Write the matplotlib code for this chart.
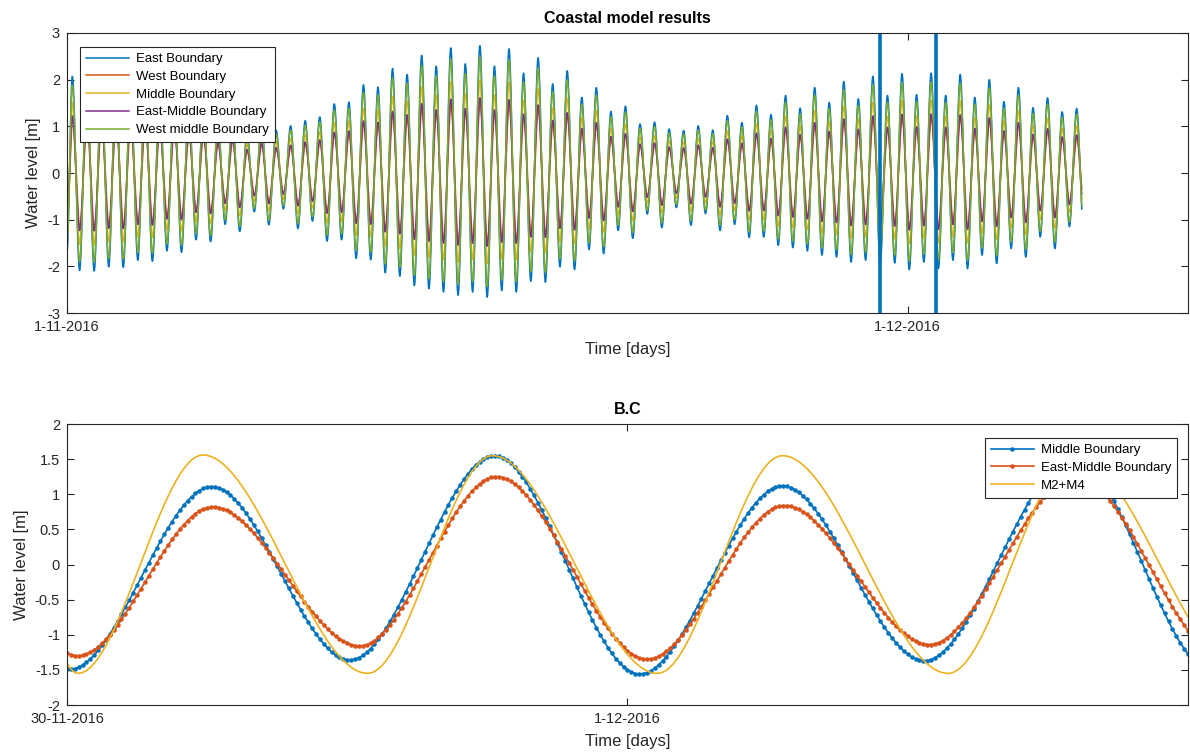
import numpy as np
import matplotlib
matplotlib.use("Agg")
import matplotlib.pyplot as plt

plt.rcParams['font.family'] = ['Liberation Sans', 'DejaVu Sans']
plt.rcParams['axes.unicode_minus'] = False

# ---------------- data: top panel (days since 1-11-2016) ----------------
top_xticks = [0, 30]
top_xtick_labels = ['1-11-2016', '1-12-2016']
top_yticks = [-3, -2, -1, 0, 1, 2, 3]
top_xlim = [0, 40]
window_lines = [29, 31]          # 30-11-2016 and 2-12-2016

east_start_value = -1.7
east_first_high_day = 0.19
east_half_period_day = 0.2597
east_end_day = 36.21
# successive high waters of East Boundary [m]
east_high = [2.07, 2.05, 2.0, 2.0, 1.9, 1.88, 1.7, 1.68, 1.45, 1.45,
             1.12, 1.22, 0.85, 1.08, 0.92, 1.01, 1.12, 1.20, 1.48, 1.52,
             1.89, 1.84, 2.24, 2.11, 2.52, 2.29, 2.68, 2.34, 2.73, 2.29,
             2.66, 2.14, 2.47, 1.91, 2.19, 1.62, 1.83, 1.32, 1.43, 1.05,
             1.09, 0.94, 0.91, 1.01, 0.92, 1.23, 1.08, 1.45, 1.25, 1.66,
             1.39, 1.83, 1.51, 1.96, 1.59, 2.07, 1.66, 2.13, 1.68, 2.14,
             1.66, 2.11, 1.62, 2.0, 1.53, 1.83, 1.40, 1.61, 1.31, 1.38]
# successive low waters of East Boundary [m]
east_low = [-2.09, -2.10, -2.01, -2.02, -1.87, -1.89, -1.67, -1.70, -1.43, -1.47,
            -1.10, -1.25, -0.83, -1.11, -0.77, -1.19, -1.03, -1.46, -1.43, -1.83,
            -1.86, -2.14, -2.21, -2.41, -2.48, -2.55, -2.62, -2.55, -2.66, -2.52,
            -2.55, -2.32, -2.34, -2.01, -2.07, -1.64, -1.73, -1.23, -1.40, -0.88,
            -1.17, -0.74, -1.12, -0.87, -1.23, -1.10, -1.38, -1.37, -1.55, -1.60,
            -1.67, -1.76, -1.80, -1.91, -1.87, -1.95, -1.93, -2.07, -1.91, -2.05,
            -1.87, -2.05, -1.76, -1.94, -1.62, -1.80, -1.37, -1.62, -1.15, -1.40]

top_names = ['East Boundary', 'West Boundary', 'Middle Boundary',
             'East-Middle Boundary', 'West middle Boundary']
top_scale = [1.0, 0.56, 0.73, 0.59, 0.91]     # ratio to East Boundary
top_lag_day = [0.0, 0.012, 0.0, 0.0, 0.0]

# ---------------- data: bottom panel (days since 30-11-2016) ----------------
bot_xticks = [0, 1]
bot_xtick_labels = ['30-11-2016', '1-12-2016']
bot_yticks = [-2, -1.5, -1, -0.5, 0, 0.5, 1, 1.5, 2]
bot_xlim = [0, 2]

middle_t = [-0.25, 0.0053, 0.2585, 0.5045, 0.7629, 1.0214, 1.2763, 1.5294, 1.7968, 2.041]
middle_v = [1.52, -1.49, 1.11, -1.36, 1.55, -1.56, 1.12, -1.37, 1.52, -1.50]

eastmid_t = [-0.2353, 0.0196, 0.2602, 0.5223, 0.7665, 1.0357, 1.2799, 1.5383, 1.8004, 2.0650]
eastmid_v = [1.25, -1.30, 0.82, -1.16, 1.25, -1.35, 0.84, -1.14, 1.25, -1.33]

m2m4_t = [-0.13, 0.0196, 0.2424, 0.5365, 0.7594, 1.0535, 1.2763, 1.5722, 1.8000, 2.100]
m2m4_v = [1.55, -1.55, 1.56, -1.55, 1.55, -1.55, 1.55, -1.55, 1.55, -1.55]

sample_per_day = 144   # 10-minute output

C_BLUE, C_ORANGE, C_YELLOW, C_PURPLE, C_GREEN = '#0072BD', '#D95319', '#EDB120', '#7E2F8E', '#77AC30'
top_colors = [C_BLUE, C_ORANGE, C_YELLOW, C_PURPLE, C_GREEN]
AX_COL = '#262626'


def pchip(xk, yk, x):
    xk = np.asarray(xk, float); yk = np.asarray(yk, float)
    h = np.diff(xk); d = np.diff(yk) / h
    n = len(xk)
    m = np.zeros(n)
    for k in range(1, n - 1):
        if d[k - 1] * d[k] > 0:
            w1 = 2 * h[k] + h[k - 1]; w2 = h[k] + 2 * h[k - 1]
            m[k] = (w1 + w2) / (w1 / d[k - 1] + w2 / d[k])
    idx = np.clip(np.searchsorted(xk, x) - 1, 0, n - 2)
    hh = h[idx]; s = (x - xk[idx]) / hh
    h00 = 2 * s**3 - 3 * s**2 + 1; h10 = s**3 - 2 * s**2 + s
    h01 = -2 * s**3 + 3 * s**2; h11 = s**3 - s**2
    return h00 * yk[idx] + h10 * hh * m[idx] + h01 * yk[idx + 1] + h11 * hh * m[idx + 1]


# East extrema sequence
ext_v = [east_start_value]
for hi, lo in zip(east_high, east_low):
    ext_v += [hi, lo]
ext_t = [0.0] + [east_first_high_day + k * east_half_period_day for k in range(len(ext_v) - 1)]

t_top = np.arange(0, east_end_day, 1.0 / sample_per_day)

fig = plt.figure(figsize=(11.9, 7.53), dpi=100)
ax1 = fig.add_axes([0.0563, 0.5843, 0.9420, 0.3719])
ax2 = fig.add_axes([0.0563, 0.0637, 0.9420, 0.3732])

for name, sc, lag, col in zip(top_names, top_scale, top_lag_day, top_colors):
    y = sc * pchip(ext_t, ext_v, np.clip(t_top - lag, 0, None))
    ax1.plot(t_top, y, color=col, lw=1.1, label=name)
for xv in window_lines:
    ax1.axvline(xv, color=C_BLUE, lw=2.6)

ax1.set_xlim(top_xlim)
ax1.set_ylim(-3, 3)
ax1.set_xticks(top_xticks)
ax1.set_xticklabels(top_xtick_labels)
ax1.set_yticks(top_yticks)
ax1.set_yticklabels([f'{v:g}' for v in top_yticks])
ax1.set_title('Coastal model results', fontsize=11.5, fontweight='bold', pad=7)
ax1.set_xlabel('Time [days]', fontsize=12, color=AX_COL, labelpad=6)
ax1.set_ylabel('Water level [m]', fontsize=12, color=AX_COL, labelpad=4)
leg_kw = dict(fontsize=9.5, handlelength=3.3, labelspacing=0.42, borderpad=0.45,
              handletextpad=0.5, fancybox=False, framealpha=1, borderaxespad=0)
leg1 = ax1.legend(loc='upper left', bbox_to_anchor=(0.0116, 0.950), **leg_kw)
leg1.get_frame().set_edgecolor(AX_COL)
leg1.get_frame().set_linewidth(0.8)

# bottom panel
t_bot = np.arange(0, 2.0 + 1e-9, 1.0 / sample_per_day)
ax2.plot(t_bot, pchip(middle_t, middle_v, t_bot), color=C_BLUE, lw=1.2,
         marker='.', ms=4.5, label='Middle Boundary')
ax2.plot(t_bot, pchip(eastmid_t, eastmid_v, t_bot), color=C_ORANGE, lw=1.2,
         marker='.', ms=4.5, label='East-Middle Boundary')
ax2.plot(t_bot, pchip(m2m4_t, m2m4_v, t_bot), color=C_YELLOW, lw=1.2,
         label='M2+M4')
ax2.set_xlim(bot_xlim)
ax2.set_ylim(-2, 2)
ax2.set_xticks(bot_xticks)
ax2.set_xticklabels(bot_xtick_labels)
ax2.set_yticks(bot_yticks)
ax2.set_yticklabels([f'{v:g}' for v in bot_yticks])
ax2.set_title('B.C', fontsize=11.5, fontweight='bold', pad=7)
ax2.set_xlabel('Time [days]', fontsize=12, color=AX_COL, labelpad=6)
ax2.set_ylabel('Water level [m]', fontsize=12, color=AX_COL, labelpad=4)
leg2 = ax2.legend(loc='upper right', bbox_to_anchor=(0.9902, 0.950), **leg_kw)
leg2.get_frame().set_edgecolor(AX_COL)
leg2.get_frame().set_linewidth(0.8)

for ax in (ax1, ax2):
    ax.tick_params(direction='in', top=True, right=True, length=5, width=0.8,
                   colors=AX_COL, labelsize=10.5, pad=5)
    for sp in ax.spines.values():
        sp.set_color(AX_COL)
        sp.set_linewidth(0.8)

fig.savefig('out.png', dpi=100)
